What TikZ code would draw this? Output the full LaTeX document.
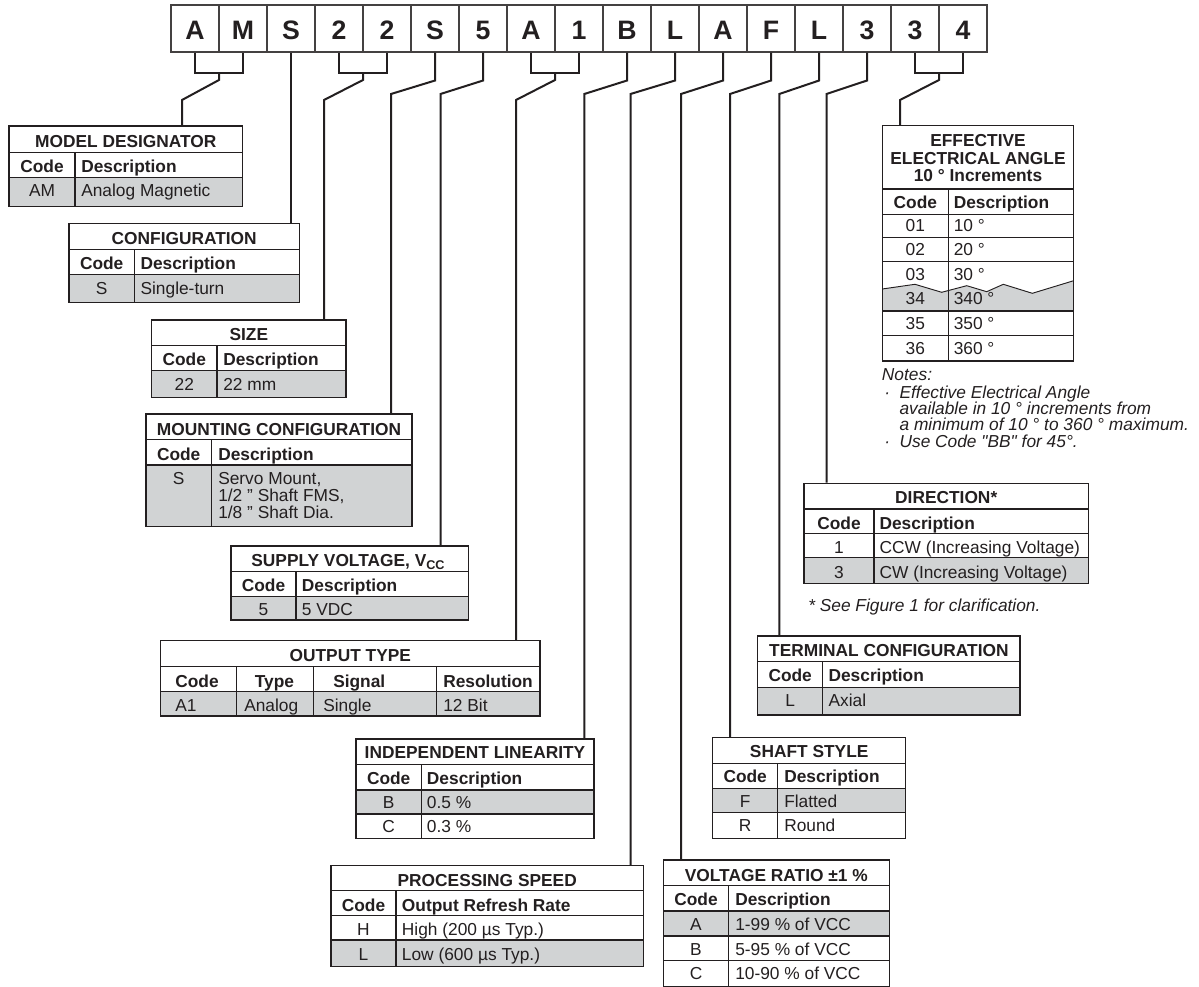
\documentclass[tikz,border=0pt]{standalone}
\usepackage{fontspec}
\setmainfont{Liberation Sans}
\newfontfamily\plainsans{Liberation Sans}
\usetikzlibrary{fit}
\definecolor{ink}{HTML}{231F20}
\definecolor{rowgray}{HTML}{D1D3D4}
\newcommand\bfnt{\fontsize{13}{12.4}\selectfont}
\newcommand\cfnt{\fontsize{20}{20}\selectfont\bfseries}
\newcommand\subfnt{\fontsize{9.5}{9.5}\selectfont}
\begin{document}
\begin{tikzpicture}[x=0.75pt,y=-0.75pt,
  gline/.style={draw=ink, line width=0.9pt},
  tframe/.style={draw=ink, line width=1pt, inner sep=0pt},
  hdc/.style={font=\bfnt\bfseries, text=ink, inner sep=0pt, anchor=base},
  hdl/.style={font=\bfnt\bfseries, text=ink, inner sep=0pt, anchor=base west},
  txc/.style={font=\bfnt, text=ink, inner sep=0pt, anchor=base},
  txl/.style={font=\bfnt, text=ink, inner sep=0pt, anchor=base west},
  itl/.style={font=\bfnt\itshape, text=ink, inner sep=0pt, anchor=base west},
  cbox/.style={draw=ink!85, line width=0.8pt, minimum width=36pt, minimum height=35.25pt,
    inner sep=0pt, text height=16.5pt, text depth=0pt, font=\cfnt, text=ink},
  conn/.style={draw=ink, line width=1.5pt}]
\useasboundingbox (0,0) rectangle (1199,987);

% ---------------- code boxes ----------------
\foreach \L [count=\i] in {A,M,S,2,2,S,5,A,1,B,L,A,F,L,3,3,4}
  \node[cbox] (b\i) at ({195+48*(\i-1)},28.5) {\L};

% ---------------- MODEL DESIGNATOR ----------------
\fill[rowgray] (9,177.7) rectangle (242.7,206.7);
\draw[gline] (9,152.3) -- (242.7,152.3) (9,177.7) -- (242.7,177.7) (75,152.3) -- (75,206.7);
\node[tframe, fit={(9,126) (242.7,206.7)}] (tMD) {};
\node[hdc] (mdT) at (125.8,147.5) {MODEL DESIGNATOR};
\node[hdc] (mdC) at (42,172.5) {Code};
\node[hdl] (mdD) at (81,172.5) {Description};
\node[txc] (md1) at (42,197) {AM};
\node[txl] (md1d) at (81,197) {Analog Magnetic};

% ---------------- CONFIGURATION ----------------
\fill[rowgray] (69,274.7) rectangle (299.3,302.7);
\draw[gline] (69,249.3) -- (299.3,249.3) (69,274.7) -- (299.3,274.7) (134.3,249.3) -- (134.3,302.7);
\node[tframe, fit={(69,223.3) (299.3,302.7)}] (tCF) {};
\node[hdc] (cfT) at (184.2,244.3) {CONFIGURATION};
\node[hdc] (cfC) at (101.7,269.5) {Code};
\node[hdl] (cfD) at (140.3,269.5) {Description};
\node[txc] (cf1) at (101.7,294.3) {S};
\node[txl] (cf1d) at (140.3,294.3) {Single-turn};

% ---------------- SIZE ----------------
\fill[rowgray] (151.7,370.7) rectangle (346,397.7);
\draw[gline] (151.7,345.7) -- (346,345.7) (151.7,370.7) -- (346,370.7) (217,345.7) -- (217,397.7);
\node[tframe, fit={(151.7,320) (346,397.7)}] (tSZ) {};
\node[hdc] (szT) at (248.8,340.7) {SIZE};
\node[hdc] (szC) at (184.3,366) {Code};
\node[hdl] (szD) at (223,366) {Description};
\node[txc] (sz1) at (184.3,390.5) {22};
\node[txl] (sz1d) at (223,390.5) {22 mm};

% ---------------- MOUNTING CONFIGURATION ----------------
\fill[rowgray] (146,465) rectangle (412,526.7);
\draw[gline] (146,439.3) -- (412,439.3) (146,465) -- (412,465) (211.3,439.3) -- (211.3,526.7);
\node[tframe, fit={(146,414) (412,526.7)}] (tMC) {};
\node[hdc] (mcT) at (279,435) {MOUNTING CONFIGURATION};
\node[hdc] (mcC) at (178.7,460.5) {Code};
\node[hdl] (mcD) at (218,460.5) {Description};
\node[txc] (mc1) at (178.7,484.3) {S};
\node[txl] (mc1a) at (218,484.3) {Servo Mount,};
\node[txl] (mc1b) at (218,501.5) {1/2 ” Shaft FMS,};
\node[txl] (mc1c) at (218,518.3) {1/8 ” Shaft Dia.};

% ---------------- SUPPLY VOLTAGE ----------------
\fill[rowgray] (231,596.7) rectangle (468.3,620);
\draw[gline] (231,571.7) -- (468.3,571.7) (231,596.7) -- (468.3,596.7) (296,571.7) -- (296,620);
\node[tframe, fit={(231,546) (468.3,620)}] (tSV) {};
\node[hdc] (svT) at (348,566) {SUPPLY VOLTAGE, V\raisebox{-0.35ex}{\subfnt CC}};
\node[hdc] (svC) at (263.5,591.7) {Code};
\node[hdl] (svD) at (301.7,591.7) {Description};
\node[txc] (sv1) at (263.5,615.5) {5};
\node[txl] (sv1d) at (301.7,615.5) {5 VDC};

% ---------------- OUTPUT TYPE ----------------
\fill[rowgray] (160.7,691.7) rectangle (540,716);
\draw[gline] (160.7,666.7) -- (540,666.7) (160.7,691.7) -- (540,691.7)
  (236.3,666.7) -- (236.3,716) (313.7,666.7) -- (313.7,716) (436.7,666.7) -- (436.7,716);
\node[tframe, fit={(160.7,640.7) (540,716)}] (tOT) {};
\node[hdc] (otT) at (350.3,661.7) {OUTPUT TYPE};
\node[hdc] (otC) at (197,687) {Code};
\node[hdc] (otTy) at (274.5,687.5) {Type};
\node[hdl] (otS) at (333,687.5) {Signal};
\node[hdl] (otR) at (443,687) {Resolution};
\node[txl] (ot1) at (175,711) {A1};
\node[txl] (ot2) at (244,711) {Analog};
\node[txl] (ot3) at (323,711) {Single};
\node[txl] (ot4) at (443,711) {12 Bit};

% ---------------- INDEPENDENT LINEARITY ----------------
\fill[rowgray] (356,790) rectangle (594,814);
\draw[gline] (356,764.3) -- (594,764.3) (356,790) -- (594,790) (356,814) -- (594,814) (421.3,764.3) -- (421.3,838.3);
\node[tframe, fit={(356,739) (594,838.3)}] (tIL) {};
\node[hdc] (ilT) at (475,758) {INDEPENDENT LINEARITY};
\node[hdc] (ilC) at (388.7,784) {Code};
\node[hdl] (ilD) at (426.7,784) {Description};
\node[txc] (il1) at (388.7,808.3) {B};
\node[txl] (il1d) at (426.7,808.3) {0.5 \%};
\node[txc] (il2) at (388.7,832) {C};
\node[txl] (il2d) at (426.7,832) {0.3 \%};

% ---------------- PROCESSING SPEED ----------------
\fill[rowgray] (331,940) rectangle (643.3,966.7);
\draw[gline] (331,890.7) -- (643.3,890.7) (331,915.7) -- (643.3,915.7) (331,940) -- (643.3,940) (396,890.7) -- (396,966.7);
\node[tframe, fit={(331,865.7) (643.3,966.7)}] (tPS) {};
\node[hdc] (psT) at (487.2,886.5) {PROCESSING SPEED};
\node[hdc] (psC) at (363.5,911.5) {Code};
\node[hdl] (psD) at (401.7,911.5) {Output Refresh Rate};
\node[txc] (ps1) at (363.5,935.5) {H};
\node[txl] (ps1d) at (401.7,935.5) {High (200 µs Typ.)};
\node[txc] (ps2) at (363.5,960) {L};
\node[txl] (ps2d) at (401.7,960) {Low (600 µs Typ.)};

% ---------------- VOLTAGE RATIO ----------------
\fill[rowgray] (663.3,911) rectangle (889.3,936);
\draw[gline] (663.3,885.7) -- (889.3,885.7) (663.3,911) -- (889.3,911) (663.3,936) -- (889.3,936)
  (663.3,960.7) -- (889.3,960.7) (728.7,885.7) -- (728.7,986.3);
\node[tframe, fit={(663.3,860) (889.3,986.3)}] (tVR) {};
\node[hdc] (vrT) at (776.3,881) {VOLTAGE RATIO ±1 \%};
\node[hdc] (vrC) at (696,905.7) {Code};
\node[hdl] (vrD) at (735,905.7) {Description};
\node[txc] (vr1) at (696,930) {A};
\node[txl] (vr1d) at (735,930) {1-99 \% of VCC};
\node[txc] (vr2) at (696,955) {B};
\node[txl] (vr2d) at (735,955) {5-95 \% of VCC};
\node[txc] (vr3) at (696,979.3) {C};
\node[txl] (vr3d) at (735,979.3) {10-90 \% of VCC};

% ---------------- SHAFT STYLE ----------------
\fill[rowgray] (712.7,788.7) rectangle (905.7,812.7);
\draw[gline] (712.7,763.3) -- (905.7,763.3) (712.7,788.7) -- (905.7,788.7) (712.7,812.7) -- (905.7,812.7) (777.7,763.3) -- (777.7,838.3);
\node[tframe, fit={(712.7,737.7) (905.7,838.3)}] (tSS) {};
\node[hdc] (ssT) at (809.2,757) {SHAFT STYLE};
\node[hdc] (ssC) at (745.2,782.7) {Code};
\node[hdl] (ssD) at (784,782.7) {Description};
\node[txc] (ss1) at (745.2,807.3) {F};
\node[txl] (ss1d) at (784,807.3) {Flatted};
\node[txc] (ss2) at (745.2,831.7) {R};
\node[txl] (ss2d) at (784,831.7) {Round};

% ---------------- TERMINAL CONFIGURATION ----------------
\fill[rowgray] (757.7,687.3) rectangle (1020,715);
\draw[gline] (757.7,661.7) -- (1020,661.7) (757.7,687.3) -- (1020,687.3) (822.7,661.7) -- (822.7,715);
\node[tframe, fit={(757.7,636) (1020,715)}] (tTC) {};
\node[hdc] (tcT) at (888.9,656.7) {TERMINAL CONFIGURATION};
\node[hdc] (tcC) at (790.2,681.7) {Code};
\node[hdl] (tcD) at (828.3,681.7) {Description};
\node[txc] (tc1) at (790.2,706.7) {L};
\node[txl] (tc1d) at (828.3,706.7) {Axial};

% ---------------- DIRECTION ----------------
\fill[rowgray] (804,557.3) rectangle (1088.3,583.3);
\draw[gline] (804,509) -- (1088.3,509) (804,533.3) -- (1088.3,533.3) (804,557.3) -- (1088.3,557.3) (874,509) -- (874,583.3);
\node[tframe, fit={(804,483.3) (1088.3,583.3)}] (tDR) {};
\node[hdc] (drT) at (946.2,503.5) {DIRECTION*};
\node[hdc] (drC) at (839,529) {Code};
\node[hdl] (drD) at (879.3,529) {Description};
\node[txc] (dr1) at (839,553.3) {1};
\node[txl] (dr1d) at (879.3,553.3) {CCW (Increasing Voltage)};
\node[txc] (dr2) at (839,578) {3};
\node[txl] (dr2d) at (879.3,578) {CW (Increasing Voltage)};
\node[itl] (drN) at (808,611.5) {* See Figure 1 for clarification.};

% ---------------- EFFECTIVE ELECTRICAL ANGLE ----------------
\fill[rowgray] (882.3,289) -- (915,284.3) -- (941.7,292.3) -- (966.7,285.7) -- (986.7,291.7)
  -- (1003.3,284.3) -- (1032.3,293.3) -- (1073.7,280.7) -- (1073.7,311) -- (882.3,311) -- cycle;
\draw[ink, line width=0.7pt] (882.3,289) -- (915,284.3) -- (941.7,292.3) -- (966.7,285.7) -- (986.7,291.7)
  -- (1003.3,284.3) -- (1032.3,293.3) -- (1073.7,280.7);
\draw[gline] (882.3,189) -- (1073.7,189) (882.3,214.3) -- (1073.7,214.3) (882.3,237.7) -- (1073.7,237.7)
  (882.3,261.7) -- (1073.7,261.7) (882.3,311) -- (1073.7,311) (882.3,335.7) -- (1073.7,335.7)
  (948.3,189) -- (948.3,361);
\node[tframe, fit={(882.3,125.7) (1073.7,361)}] (tEA) {};
\node[hdc] (eaT1) at (978,146.3) {EFFECTIVE};
\node[hdc] (eaT2) at (978,164.3) {ELECTRICAL ANGLE};
\node[hdc] (eaT3) at (978,181.7) {10 ° Increments};
\node[hdc] (eaC) at (915.3,208.5) {Code};
\node[hdl] (eaD) at (953.5,208.5) {Description};
\node[txc] (ea1) at (915.3,231.7) {01};
\node[txl] (ea1d) at (953.5,231.7) {10 °};
\node[txc] (ea2) at (915.3,255.7) {02};
\node[txl] (ea2d) at (953.5,255.7) {20 °};
\node[txc] (ea3) at (915.3,280.5) {03};
\node[txl] (ea3d) at (953.5,280.5) {30 °};
\node[txc] (ea4) at (915.3,305) {34};
\node[txl] (ea4d) at (953.5,305) {340 °};
\node[txc] (ea5) at (915.3,330) {35};
\node[txl] (ea5d) at (953.5,330) {350 °};
\node[txc] (ea6) at (915.3,354.5) {36};
\node[txl] (ea6d) at (953.5,354.5) {360 °};
\node[itl] (nt0) at (881.7,381) {Notes:};
\node[itl] (nb1) at (884,398) {·};
\node[itl] (nt1) at (899.3,398) {Effective Electrical Angle};
\node[itl] (nt2) at (899.3,414.5) {available in 10 ° increments from};
\node[itl] (nt3) at (899.3,431) {a minimum of 10 ° to 360 ° maximum.};
\node[itl] (nb2) at (884,447.5) {·};
\node[itl, font=\bfnt\plainsans\itshape] (nt4) at (899.3,447.5) {Use Code "BB" for 45°.};

% ---------------- connectors ----------------
\coordinate (kAM) at (219,73);
\coordinate (aAM) at (182,100);
\draw[conn] (b1.south) |- (kAM) -| (b2.south);
\draw[conn] (kAM) -- ++(0,7) -- (aAM) -- (aAM |- tMD.north);

\draw[conn] (b3.south) -- (b3.south |- tCF.north);

\coordinate (kSZ) at (363,73);
\coordinate (aSZ) at (324,100);
\draw[conn] (b4.south) |- (kSZ) -| (b5.south);
\draw[conn] (kSZ) -- ++(0,7) -- (aSZ) -- (aSZ |- tSZ.north);

\coordinate (aMC) at (391,94);
\draw[conn] (b6.south) -- ++(0,28) -- (aMC) -- (aMC |- tMC.north);

\coordinate (aSV) at (440.5,94);
\draw[conn] (b7.south) -- ++(0,28) -- (aSV) -- (aSV |- tSV.north);

\coordinate (kOT) at (555,73);
\coordinate (aOT) at (516,100);
\draw[conn] (b8.south) |- (kOT) -| (b9.south);
\draw[conn] (kOT) -- ++(0,7) -- (aOT) -- (aOT |- tOT.north);

\coordinate (aIL) at (584.3,94);
\draw[conn] (b10.south) -- ++(0,28) -- (aIL) -- (aIL |- tIL.north);

\coordinate (aPS) at (630.5,94);
\draw[conn] (b11.south) -- ++(0,28) -- (aPS) -- (aPS |- tPS.north);

\coordinate (aVR) at (681,94);
\draw[conn] (b12.south) -- ++(0,28) -- (aVR) -- (aVR |- tVR.north);

\coordinate (aSS) at (730,94);
\draw[conn] (b13.south) -- ++(0,28) -- (aSS) -- (aSS |- tSS.north);

\coordinate (aTC) at (779.3,94);
\draw[conn] (b14.south) -- ++(0,28) -- (aTC) -- (aTC |- tTC.north);

\coordinate (aDR) at (826.5,94);
\draw[conn] (b15.south) -- ++(0,28) -- (aDR) -- (aDR |- tDR.north);

\coordinate (kEA) at (939,73);
\coordinate (aEA) at (900,100);
\draw[conn] (b16.south) |- (kEA) -| (b17.south);
\draw[conn] (kEA) -- ++(0,7) -- (aEA) -- (aEA |- tEA.north);
\end{tikzpicture}
\end{document}
